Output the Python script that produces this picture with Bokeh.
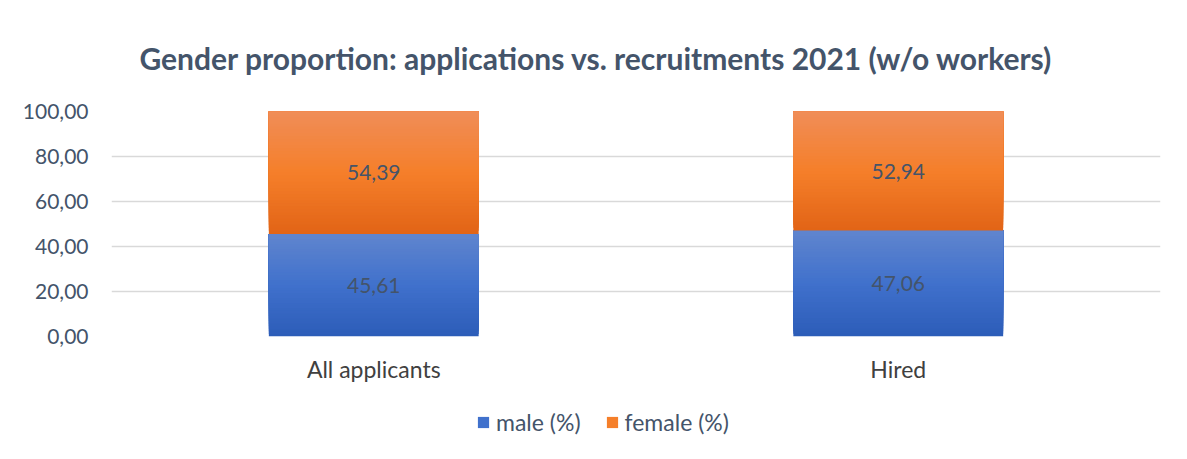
from bokeh.plotting import figure
from bokeh.layouts import column
from bokeh.models import (ColumnDataSource, CustomJSTickFormatter, Legend, LegendItem,
                          LabelSet, Title, FactorRange)
from bokeh.core.properties import value
from bokeh.embed import file_html
from bokeh.resources import INLINE

# ---- data ----
categories = ["All applicants", "Hired"]
male = [45.61, 47.06]
female = [54.39, 52.94]
series_names = ["male (%)", "female (%)"]
y_ticks = [0, 20, 40, 60, 80, 100]

TEXT = "#44546A"
FONT = "Lato"

# gradient stops (bottom, middle, top)
stops = {
    "male (%)": [(44, 92, 184), (64, 113, 204), (96, 133, 206)],
    "female (%)": [(226, 100, 22), (245, 127, 42), (240, 141, 88)],
}

def grad_color(st, f):
    if f < 0.5:
        a, b, t = st[0], st[1], f / 0.5
    else:
        a, b, t = st[1], st[2], (f - 0.5) / 0.5
    c = tuple(int(round(a[k] + (b[k] - a[k]) * t)) for k in range(3))
    return "#%02x%02x%02x" % c

p = figure(x_range=FactorRange(*categories), y_range=(0, 100),
           width=1183, height=385, output_backend="svg", toolbar_location=None,
           min_border_left=111, min_border_right=23, min_border_top=111,
           min_border_bottom=46)
p.outline_line_color = None
p.background_fill_color = "white"
p.border_fill_color = "white"

N = 40
bottoms = [0.0] * len(categories)
for name, vals in zip(series_names, [male, female]):
    xs, b_list, t_list, cols = [], [], [], []
    for ci, cat in enumerate(categories):
        b0 = bottoms[ci]
        t0 = b0 + vals[ci]
        for i in range(N):
            bb = b0 + (t0 - b0) * i / N
            xs.append(cat)
            b_list.append(bb)
            t_list.append(t0)
            cols.append(grad_color(stops[name], (i + 0.5) / N))
        bottoms[ci] = t0
    src = ColumnDataSource(dict(x=xs, bottom=b_list, top=t_list, color=cols))
    p.vbar(x="x", bottom="bottom", top="top", width=0.40, source=src,
           fill_color="color", line_color=None)

# data labels
lab_x, lab_y, lab_t = [], [], []
base = [0.0] * len(categories)
for vals in [male, female]:
    for ci, cat in enumerate(categories):
        lab_x.append(cat)
        lab_y.append(base[ci] + vals[ci] / 2)
        lab_t.append(("%.2f" % vals[ci]).replace(".", ","))
        base[ci] += vals[ci]
lsrc = ColumnDataSource(dict(x=lab_x, y=lab_y, t=lab_t))
p.add_layout(LabelSet(x="x", y="y", text="t", source=lsrc, text_align="center",
                      text_baseline="middle", text_color=TEXT, text_font=value(FONT),
                      text_font_size="21px"))

# axes
p.yaxis.ticker = y_ticks
p.yaxis.formatter = CustomJSTickFormatter(code="return tick.toFixed(2).replace('.', ',');")
p.yaxis.axis_line_color = None
p.yaxis.major_tick_line_color = None
p.yaxis.minor_tick_line_color = None
p.yaxis.major_label_text_color = TEXT
p.yaxis.major_label_text_font = FONT
p.yaxis.major_label_text_font_size = "21px"
p.yaxis.major_label_standoff = 17

p.xaxis.axis_line_color = None
p.xaxis.major_tick_line_color = None
p.xaxis.minor_tick_line_color = None
p.xaxis.major_label_text_color = "#404040"
p.xaxis.major_label_text_font = FONT
p.xaxis.major_label_text_font_size = "23px"
p.xaxis.major_label_standoff = 12

p.xgrid.grid_line_color = None
p.ygrid.grid_line_color = "#D9D9D9"
p.ygrid.grid_line_width = 1.5

# title
p.title = Title(text="Gender proportion: applications vs. recruitments 2021 (w/o workers)",
                align="left", offset=28, text_color=TEXT, text_font=FONT,
                text_font_size="30px", text_font_style="bold", standoff=71)

# legend in its own strip below the chart (key swatches sit fully outside the visible range)
lg = figure(width=1183, height=70, output_backend="svg", toolbar_location=None,
            min_border_left=111, min_border_right=23, min_border_top=8, min_border_bottom=0,
            x_range=(0, 1), y_range=(0, 1))
lg.axis.visible = False
lg.grid.visible = False
lg.outline_line_color = None
lg.border_fill_color = "white"
key_src = [ColumnDataSource(dict(x=[-10.0], bottom=[-3.0], top=[-2.0],
                                 color=[grad_color(stops[n], 0.5)]))
           for n in series_names]
key_r = [lg.vbar(x="x", bottom="bottom", top="top", width=0.1, source=s,
                 fill_color="color", line_color=None)
         for s in key_src]
legend = Legend(items=[LegendItem(label=series_names[0], renderers=[key_r[0]]),
                       LegendItem(label=series_names[1], renderers=[key_r[1]])],
                orientation="horizontal", location=(365, 19),
                label_text_color=TEXT, label_text_font=FONT, label_text_font_size="23px",
                glyph_width=14, glyph_height=14, spacing=24, label_standoff=6,
                border_line_color=None, background_fill_alpha=0, margin=0, padding=4)
lg.add_layout(legend)

layout = column(p, lg, spacing=0)
open("out.html", "w").write(file_html(layout, INLINE))
